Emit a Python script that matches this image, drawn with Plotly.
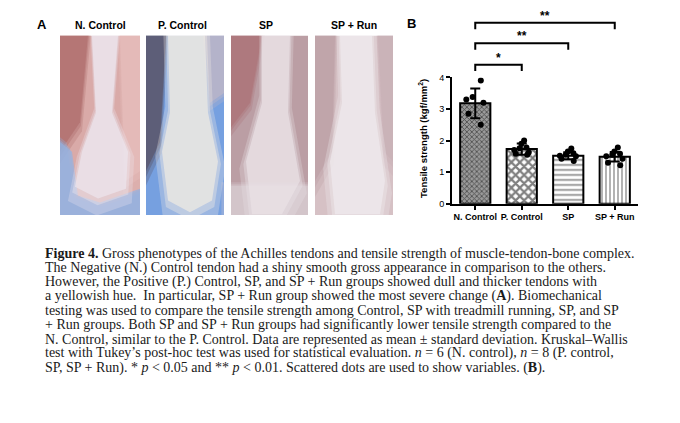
import plotly.graph_objects as go

# ---- data ----
groups = ["N. Control", "P. Control", "SP", "SP + Run"]
means = [3.18, 1.73, 1.52, 1.49]
sds = [0.47, 0.18, 0.11, 0.15]

n_control = [3.9, 3.38, 3.3, 3.2, 2.85, 2.5]
p_control = [2.0, 1.9, 1.78, 1.76, 1.7, 1.62, 1.58, 1.55]
sp = [1.75, 1.65, 1.6, 1.55, 1.52, 1.5, 1.42, 1.35]
sp_run = [1.78, 1.65, 1.58, 1.55, 1.5, 1.42, 1.3, 1.22]
points = [n_control, p_control, sp, sp_run]

# comparisons against N. Control: (other group, label, bracket height)
comparisons = [(1, "*", 4.4), (2, "**", 5.08), (3, "**", 5.73)]

caption = [
    "<b>Figure 4.</b> Gross phenotypes of the Achilles tendons and tensile strength of muscle-tendon-bone complex.",
    "The Negative (N.) Control tendon had a shiny smooth gross appearance in comparison to the others.",
    "However, the Positive (P.) Control, SP, and SP + Run groups showed dull and thicker tendons with",
    "a yellowish hue.  In particular, SP + Run group showed the most severe change (<b>A</b>). Biomechanical",
    "testing was used to compare the tensile strength among Control, SP with treadmill running, SP, and SP",
    "+ Run groups. Both SP and SP + Run groups had significantly lower tensile strength compared to the",
    "N. Control, similar to the P. Control. Data are represented as mean ± standard deviation. Kruskal–Wallis",
    "test with Tukey’s post-hoc test was used for statistical evaluation. <i>n</i> = 6 (N. control), <i>n</i> = 8 (P. control,",
    "SP, SP + Run). * <i>p</i> &lt; 0.05 and ** <i>p</i> &lt; 0.01. Scattered dots are used to show variables. (<b>B</b>).",
]

W, H = 680, 423
OFF = 8  # the page puts the figure 8px in from the top-left corner


def px(x):
    return (x - OFF) / W


def py(y):
    return 1 - (y - OFF) / H


def path(pts, grow=1.0):
    cx = sum(p[0] for p in pts) / len(pts)
    cy = sum(p[1] for p in pts) / len(pts)
    pts = [(cx + (x - cx) * grow, cy + (y - cy) * grow) for x, y in pts]
    return "M" + " L".join("%.4f,%.4f" % (px(x), py(y)) for x, y in pts) + " Z"


def white_box(x0, x1, y0, y1):
    fig.add_shape(type="rect", xref="paper", yref="paper",
                  x0=px(x0), x1=px(x1), y0=py(y1), y1=py(y0),
                  fillcolor="white", line=dict(width=0), layer="below")


# y axis: value 0 at pixel 203.3, value 4 at pixel 74
y_dom = [py(203.3), py(74)]


def yval(v):
    return y_dom[0] + v / 4 * (y_dom[1] - y_dom[0])


fig = go.Figure()

fig.add_trace(go.Bar(
    x=list(range(len(groups))), y=means, width=0.65,
    marker=dict(
        color="white",
        line=dict(color="black", width=2),
        pattern=dict(
            shape=["x", "x", "-", "|"],
            size=[3.5, 6, 5, 4],
            solidity=[0.45, 0.6, 0.3, 0.3],
            fgcolor="black",
            bgcolor=["#9a9a9a", "white", "white", "white"],
            fillmode="overlay",
        ),
    ),
    error_y=dict(type="data", array=sds, color="black", thickness=2, width=5),
    showlegend=False,
))

for i, vals in enumerate(points):
    fig.add_trace(go.Box(
        x=[i] * len(vals), y=vals, width=0.65,
        boxpoints="all", jitter=0.7, pointpos=0,
        fillcolor="rgba(0,0,0,0)", line=dict(width=0),
        marker=dict(color="black", size=6),
        showlegend=False,
    ))

# significance brackets
for j, label, h in comparisons:
    fig.add_shape(type="path", xref="x", yref="paper",
                  path="M0,%.4f L0,%.4f L%d,%.4f L%d,%.4f" % (
                      yval(h - 0.2), yval(h), j, yval(h), j, yval(h - 0.2)),
                  line=dict(color="black", width=2))
    fig.add_annotation(x=j / 2, y=yval(h), xref="x", yref="paper",
                       text="<b>%s</b>" % label, showarrow=False,
                       xanchor="center", yanchor="bottom", yshift=-2,
                       font=dict(size=12, color="black", family="Arial"))

# panel A: stand-in blocks for the four photographs
photos = [
    (60, 140, "#d9aaa8", [
        ([(60, 31), (88, 31), (80, 120), (60, 150)], "#b06f6d"),
        ([(120, 31), (140, 31), (140, 170), (125, 180)], "#e6bcba"),
        ([(60, 140), (72, 150), (78, 195), (100, 202), (140, 188), (140, 215), (60, 215)], "#93b2e2"),
        ([(92, 31), (118, 31), (112, 110), (128, 150), (126, 188), (98, 198), (75, 186), (82, 150), (96, 110)], "#ece6ee"),
    ]),
    (146, 224, "#76a0e0", [
        ([(146, 31), (166, 31), (160, 140), (146, 170)], "#5a556a"),
        ([(205, 31), (224, 31), (224, 90), (210, 100)], "#bdb7c8"),
        ([(168, 31), (205, 31), (208, 110), (218, 160), (212, 200), (190, 212), (168, 200), (162, 150), (170, 110)], "#f1ebe3"),
    ]),
    (231, 308, "#bb9ea4", [
        ([(231, 31), (262, 31), (250, 100), (231, 125)], "#ad7479"),
        ([(231, 185), (308, 185), (308, 215), (231, 215)], "#d6cbd0"),
        ([(262, 31), (290, 31), (288, 110), (300, 180), (282, 214), (252, 214), (246, 160), (262, 100)], "#e9e1e6"),
    ]),
    (315, 393, "#d6c1c5", [
        ([(315, 31), (335, 31), (332, 150), (315, 180)], "#bda1a7"),
        ([(378, 31), (393, 31), (393, 160), (384, 150)], "#c9b1b6"),
        ([(340, 31), (372, 31), (375, 110), (385, 180), (380, 214), (335, 214), (330, 160), (342, 100)], "#f0eaee"),
    ]),
]
for x0, x1, base, parts in photos:
    fig.add_shape(type="rect", xref="paper", yref="paper",
                  x0=px(x0), x1=px(x1), y0=py(215), y1=py(31),
                  fillcolor=base, line=dict(width=0), layer="below")
    for pts, col in parts:
        # soft halo first, then the core, to blur the hard edges a little
        for grow, op in [(1.25, 0.3), (1.1, 0.4), (1.0, 0.7)]:
            fig.add_shape(type="path", xref="paper", yref="paper", path=path(pts, grow),
                          fillcolor=col, opacity=op, line=dict(width=0), layer="below")

# clear what the halos pushed past the photo edges
white_box(0, 60, 0, 245)
white_box(393, 440, 0, 245)
white_box(40, 420, 0, 31)
white_box(40, 420, 215, 245)
for a, b in [(140, 146), (224, 231), (308, 315)]:
    white_box(a, b, 0, 245)

for name, cx in zip(groups, [100, 182, 266, 354]):
    fig.add_annotation(x=px(cx), y=py(20), xref="paper", yref="paper",
                       text="<b>%s</b>" % name, showarrow=False,
                       xanchor="center", yanchor="middle",
                       font=dict(size=10.5, color="black", family="Arial"))

for lab, lx, ly in [("A", 42, 20), ("B", 411, 19)]:
    fig.add_annotation(x=px(lx), y=py(ly), xref="paper", yref="paper",
                       text="<b>%s</b>" % lab, showarrow=False,
                       xanchor="center", yanchor="middle",
                       font=dict(size=13, color="black", family="Arial"))

fig.add_annotation(x=px(423), y=yval(2.05), xref="paper", yref="paper",
                   text="<b>Tensile strength (kgf/mm<sup>2</sup>)</b>", textangle=-90,
                   showarrow=False, xanchor="center", yanchor="middle",
                   font=dict(size=9.5, color="black", family="Arial"))

for k, line in enumerate(caption):
    fig.add_annotation(x=px(43), y=py(254.3 + k * 14.6), xref="paper", yref="paper",
                       xanchor="left", yanchor="middle", text=line, showarrow=False,
                       font=dict(size=14, color="#1a1a1a", family="Liberation Serif"))

fig.update_layout(
    width=W, height=H,
    margin=dict(l=0, r=0, t=0, b=0),
    paper_bgcolor="white", plot_bgcolor="white",
    boxmode="overlay",
    xaxis=dict(domain=[px(452), px(638)], range=[-0.5, 3.5],
               tickvals=list(range(len(groups))), ticktext=["<b>%s</b>" % g for g in groups],
               showline=True, linecolor="black", linewidth=2,
               ticks="outside", ticklen=4, tickwidth=1.5, tickcolor="black",
               showgrid=False, zeroline=False,
               tickfont=dict(size=9, color="black", family="Arial")),
    yaxis=dict(domain=y_dom, range=[0, 4], tickvals=[0, 1, 2, 3, 4],
               showline=True, linecolor="black", linewidth=2,
               ticks="outside", ticklen=4, tickwidth=1.5, tickcolor="black",
               showgrid=False, zeroline=False,
               tickfont=dict(size=9, color="black", family="Arial")),
)

fig.write_html("out.html")
